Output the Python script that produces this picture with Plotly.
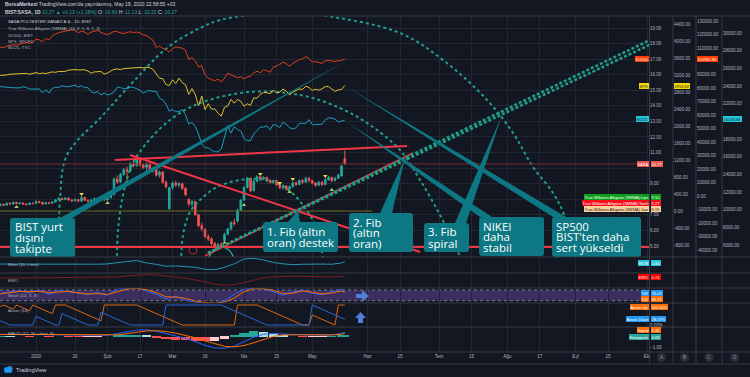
import plotly.graph_objects as go

# ===================== DATA =====================
# x axis: trading-bar index (0 = 17 Dec 2019, 106 = 18 May 2020)
bar_tick_index = [11, 23, 33, 43, 53, 63, 75, 85, 96, 113, 123, 135, 145, 156, 166, 177, 187, 199]
bar_tick_label = ["2020", "20", "Şub", "17", "Mar", "16", "Nis", "15", "May",
                  "Haz", "15", "Tem", "15", "Ağu", "17", "Eyl", "15", "Eki"]

sasa_open = [7.60, 7.68, 7.62, 7.74, 7.70, 7.80, 7.72, 7.76, 7.70, 7.66, 7.75,
             7.74, 7.86, 7.80, 7.70, 7.78, 7.74, 7.82, 7.96, 8.06, 7.98,
             8.08, 7.96, 7.90, 7.98, 7.88, 8.12, 7.94, 7.86, 7.95, 8.05,
             7.96, 8.02, 7.96, 8.10, 8.30, 9.30, 9.10, 9.60, 9.90, 9.80,
             10.30, 10.15, 10.55, 10.20, 10.05, 10.25, 9.85, 9.95, 9.55, 9.75,
             9.10, 7.40, 8.75, 9.05, 8.90, 9.00, 8.70, 8.00, 7.70, 7.85,
             7.00, 6.30, 6.05, 5.60, 5.45, 5.15, 4.95, 5.10, 5.35, 5.75,
             6.10, 6.50, 6.60, 7.30, 7.95, 8.75, 9.35, 8.55, 9.15, 9.45,
             9.30, 9.40, 9.20, 9.10, 9.20, 8.95, 8.75, 8.85, 8.65, 8.80,
             9.05, 8.95, 9.20, 9.10, 9.35, 9.20, 9.05, 8.90, 9.10, 8.95,
             9.25, 9.40, 9.20, 9.35, 9.50, 10.60]
sasa_high = [7.75, 7.72, 7.80, 7.82, 7.86, 7.84, 7.82, 7.80, 7.74, 7.80, 7.80,
             7.92, 7.90, 7.84, 7.84, 7.82, 7.88, 8.02, 8.12, 8.10, 8.14,
             8.12, 8.00, 8.04, 8.02, 8.20, 8.16, 7.98, 8.00, 8.12, 8.08,
             8.08, 8.10, 8.18, 8.38, 9.40, 9.55, 9.70, 10.00, 10.10, 10.40,
             10.45, 10.70, 10.60, 10.30, 10.35, 10.30, 10.05, 10.00, 9.85, 9.80,
             9.20, 8.80, 9.15, 9.20, 9.10, 9.05, 8.80, 8.05, 7.95, 7.90,
             7.05, 6.50, 6.15, 5.75, 5.55, 5.25, 5.20, 5.25, 5.85, 6.15,
             6.60, 6.75, 7.40, 8.00, 8.85, 9.45, 9.40, 9.25, 9.55, 9.50,
             9.48, 9.45, 9.30, 9.25, 9.25, 9.00, 8.95, 8.90, 8.90, 9.15,
             9.15, 9.30, 9.30, 9.45, 9.45, 9.25, 9.10, 9.20, 9.15, 9.35,
             9.50, 9.45, 9.45, 9.65, 10.20, 11.13]
sasa_low = [7.55, 7.58, 7.60, 7.66, 7.66, 7.68, 7.68, 7.64, 7.60, 7.62, 7.68,
            7.72, 7.74, 7.64, 7.66, 7.68, 7.70, 7.80, 7.92, 7.94, 7.94,
            7.90, 7.84, 7.86, 7.82, 7.84, 7.90, 7.80, 7.82, 7.92, 7.90,
            7.92, 7.88, 7.92, 8.05, 8.25, 9.00, 9.05, 9.50, 9.25, 9.75,
            10.05, 10.10, 10.10, 9.95, 9.90, 9.75, 9.70, 9.45, 9.40, 9.00,
            8.70, 7.30, 8.60, 8.80, 8.75, 8.60, 8.20, 7.55, 7.50, 6.95,
            6.20, 5.95, 5.50, 5.30, 5.05, 4.85, 4.80, 4.90, 5.30, 5.70,
            6.00, 6.30, 6.50, 7.25, 7.90, 8.70, 8.45, 8.50, 9.10, 9.20,
            9.22, 9.10, 9.00, 9.00, 8.85, 8.65, 8.60, 8.55, 8.55, 8.75,
            8.85, 8.90, 9.00, 9.05, 9.10, 8.95, 8.80, 8.85, 8.85, 8.90,
            9.20, 9.10, 9.15, 9.30, 9.45, 10.20]
sasa_close = [7.68, 7.62, 7.74, 7.70, 7.80, 7.72, 7.76, 7.70, 7.66, 7.75, 7.72,
              7.86, 7.80, 7.70, 7.78, 7.74, 7.82, 7.96, 8.06, 7.98, 8.08,
              7.96, 7.90, 7.98, 7.88, 8.12, 7.94, 7.86, 7.95, 8.05, 7.96,
              8.02, 7.96, 8.10, 8.30, 9.30, 9.10, 9.60, 9.90, 9.80, 10.30,
              10.15, 10.55, 10.20, 10.05, 10.25, 9.85, 9.95, 9.55, 9.75, 9.10,
              8.80, 8.75, 9.05, 8.90, 9.00, 8.70, 8.30, 7.70, 7.85, 7.00,
              6.30, 6.10, 5.60, 5.45, 5.15, 4.95, 5.10, 5.05, 5.75, 6.10,
              6.50, 6.45, 7.30, 7.95, 8.75, 9.35, 8.55, 9.15, 9.45, 9.30,
              9.40, 9.20, 9.10, 9.20, 8.95, 8.75, 8.85, 8.65, 8.80, 9.05,
              8.95, 9.20, 9.10, 9.35, 9.20, 9.05, 8.90, 9.10, 8.95, 9.25,
              9.40, 9.20, 9.35, 9.55, 10.14, 10.27]

xu100_close = [110700, 110200, 111300, 111900, 112500, 112100, 112800, 113600, 114100, 113200, 114400,
               116500, 116000, 114500, 117000, 116000, 119200, 120300, 121500, 121900, 122500, 123200,
               123400, 123000, 121400, 122300, 121800, 120200, 121800, 122400, 123000, 121500, 120800,
               119800, 121000, 122300, 122000, 121200, 120500, 121600, 122000, 121400, 121800,
               121100, 119600, 119200, 117300, 115600, 110200, 111400, 109700, 108900, 107000,
               109500, 110800, 110500, 109800, 108200, 101500, 102800, 100400, 95800, 96800,
               90000, 87600, 86500, 85600, 86900, 84700, 87500, 91300, 90000, 88800, 87900, 88700,
               86900, 88400, 89200, 91500, 92700, 91600, 93800, 93000, 91900, 95800,
               96500, 97900, 99400, 98400, 96400, 98500, 100100, 101300, 101800, 103600, 102200,
               99500, 99800, 99100, 98500, 100400, 100900, 100300, 99900, 100500, 100700, 101982.96]
spx_close = [3192, 3191, 3205, 3221, 3224, 3223, 3223, 3240, 3240, 3221, 3231,
             3258, 3235, 3246, 3237, 3253, 3275, 3265, 3288, 3283, 3289, 3316,
             3330, 3330, 3321, 3321, 3326, 3295, 3244, 3276, 3273, 3284, 3226,
             3249, 3298, 3334, 3345, 3328, 3352, 3358, 3379, 3374, 3380,
             3380, 3370, 3386, 3373, 3338, 3226, 3128, 3116, 2979, 2954,
             3090, 3003, 3130, 3024, 2972, 2747, 2882, 2741, 2481, 2711,
             2386, 2529, 2398, 2409, 2305, 2237, 2447, 2476, 2630, 2541, 2627, 2585,
             2470, 2527, 2489, 2664, 2659, 2750, 2790, 2790, 2762, 2846,
             2783, 2800, 2875, 2823, 2737, 2799, 2837, 2878, 2863, 2939, 2912,
             2843, 2868, 2848, 2881, 2930, 2930, 2870, 2820, 2852, 2864, 2953.92]
ni225_close = [23935, 23934, 23865, 23816, 23821, 23830, 23782, 23924, 23837, 23657, 23657,
               23657, 23657, 23204, 23575, 23204, 23740, 23850, 23850, 24025, 23917, 23933,
               24041, 24083, 23865, 24031, 23795, 23827, 23343, 23216, 23379, 22977, 23205,
               22972, 23085, 23320, 23873, 23828, 23686, 23686, 23861, 23828, 23688,
               23523, 23194, 23400, 23479, 23386, 23386, 22605, 22426, 21948, 21143,
               21344, 21082, 21100, 21329, 20749, 19698, 19867, 19416, 18559, 17431,
               17002, 17011, 16726, 16552, 16552, 16887, 18092, 19546, 18664, 19389, 19084, 18917,
               18065, 17818, 17820, 18576, 18950, 19353, 19345, 19498, 19043, 19638,
               19550, 19290, 19897, 19669, 19280, 19138, 19262, 19783, 19771, 19771, 20193,
               19619, 19619, 19619, 19674, 20179, 20390, 20366, 20267, 19914, 20037, 20133.66]

# indicator panes, read every third bar
ind_index = list(range(0, 106, 3)) + [106]
mom_vals = [0.15, 0.10, 0.05, 0.08, 0.12, 0.05, 0.30, 0.25, 0.10, 0.00, 0.05, 0.25, 1.20, 1.90, 2.55, 0.95,
            -0.05, -1.35, -1.15, -1.55, -2.10, -3.45, -3.75, -2.10, 0.35, 3.60, 4.10, 2.90, 1.25, 0.30,
            -0.25, 0.00, 0.30, 0.15, 0.00, 0.94, 1.80]
ewo_vals = [0.10, 0.12, 0.13, 0.14, 0.15, 0.16, 0.20, 0.22, 0.25, 0.22, 0.18, 0.20, 0.45, 0.80, 1.15, 1.30,
            1.20, 0.85, 0.45, 0.05, -0.50, -1.20, -1.90, -2.30, -2.10, -1.40, -0.50, 0.20, 0.55, 0.70,
            0.70, 0.65, 0.55, 0.50, 0.50, 0.65, 0.74]
stoch_k = [60, 70, 75, 65, 80, 55, 78, 70, 60, 55, 65, 50, 85, 88, 90, 75, 55, 30, 45, 25, 10, 8, 5, 20,
           55, 85, 90, 85, 70, 50, 70, 80, 60, 55, 70, 85, 76.01]
stoch_d = [58, 65, 72, 70, 73, 65, 70, 72, 64, 58, 60, 55, 70, 85, 88, 82, 65, 42, 40, 33, 18, 10, 7, 12,
           35, 70, 87, 87, 78, 60, 62, 75, 68, 58, 63, 75, 66.74]
macd_line = [0.22, 0.22, 0.21, 0.20, 0.20, 0.19, 0.19, 0.18, 0.16, 0.14, 0.12, 0.13, 0.28, 0.45, 0.60, 0.62,
             0.50, 0.28, 0.06, -0.15, -0.45, -0.78, -1.02, -1.05, -0.85, -0.45, -0.05, 0.22, 0.30, 0.24,
             0.19, 0.17, 0.16, 0.15, 0.17, 0.30, 0.39]
macd_signal = [0.20, 0.21, 0.21, 0.21, 0.20, 0.20, 0.19, 0.19, 0.18, 0.16, 0.14, 0.13, 0.17, 0.27, 0.41, 0.52,
               0.55, 0.47, 0.32, 0.13, -0.10, -0.38, -0.65, -0.88, -0.93, -0.80, -0.55, -0.25, 0.02, 0.15,
               0.19, 0.18, 0.17, 0.16, 0.16, 0.22, 0.30]
macd_hist = [0.02, 0.01, 0.00, -0.01, 0.00, -0.01, 0.00, -0.01, -0.02, -0.02, -0.02, 0.00, 0.11, 0.18, 0.19,
             0.10, -0.05, -0.19, -0.26, -0.28, -0.35, -0.40, -0.37, -0.17, 0.08, 0.35, 0.50, 0.47, 0.28,
             0.09, 0.00, -0.01, -0.01, -0.01, 0.01, 0.08, 0.09]
aroon_up_x = [0, 1, 4, 5, 9, 10, 16, 17, 20, 31, 32, 42, 56, 72, 73, 79, 93, 95, 96, 103, 104, 106]
aroon_up_y = [93, 100, 79, 100, 71, 100, 57, 100, 100, 21, 100, 100, 0, 0, 100, 100, 0, 0, 50, 0, 100, 100]
aroon_dn_x = [0, 3, 10, 11, 17, 18, 19, 27, 30, 31, 40, 50, 51, 68, 82, 95, 96, 106]
aroon_dn_y = [21, 0, 0, 43, 0, 0, 57, 0, 0, 64, 0, 0, 100, 100, 0, 0, 100, 28.57]

fractal_low_x = [5, 33, 39, 45, 69, 75, 89, 102]
fractal_low_y = [7.50, 7.76, 9.11, 9.75, 5.20, 7.63, 8.47, 8.60]
fractal_high_x = [25, 80, 86, 90, 100]
fractal_high_y = [8.34, 9.62, 9.05, 9.30, 9.50]

price_ticks = [5, 6, 7, 8, 9, 10, 11, 12, 13, 14, 15, 16, 17, 18, 19]
price_hidden = [8, 10]            # covered by the value tags on the price scale
spx_ticks = list(range(-800, 4401, 400))
xu_ticks = list(range(-40000, 130001, 10000))
xu_hidden = [100000]
ni_ticks = list(range(6000, 30001, 2000))
ni_hidden = [20000]

# ---- chart drawings (bar index, price) ----
red_lines = [((35.31, 10.52), (125.15, 11.42)), ((39.92, 10.84), (129.15, 4.61))]
support_level = 4.934
olive_level = 7.246
fan_start = (63.92, 4.55)
fan_ends = [(199.92, 18.23), (199.92, 17.93)]
fan_red = ((63.0, 4.36), (127.0, 10.97))
arc_a = [(18.08, 3.97), (18.38, 7.95), (20.54, 10.84), (31.62, 13.41), (40.85, 15.53), (51.31, 17.72),
         (61.46, 19.0), (67.62, 19.51), (76.85, 19.84), (87.62, 20.03), (98.38, 19.84), (122.99, 18.68),
         (136.23, 16.94), (149.77, 14.38), (157.77, 12.26), (163.92, 10.07), (170.08, 8.40),
         (173.77, 6.86), (176.85, 4.23), (177.46, 3.78)]
arc_b = [(35.92, 3.97), (36.23, 6.03), (37.77, 8.27), (40.54, 10.20), (44.54, 11.49), (52.23, 13.09),
         (61.46, 14.18), (76.85, 14.89), (92.23, 14.70), (104.54, 13.86), (113.77, 12.77), (123.0, 11.16),
         (129.15, 9.24), (135.31, 6.99), (139.92, 5.06), (142.08, 3.97)]
arc_c = [(55.62, 3.97), (56.23, 5.71), (58.38, 7.18), (61.46, 7.95), (66.08, 8.72), (72.23, 9.17),
         (79.0, 9.30), (87.0, 8.85), (93.15, 7.63), (96.85, 6.35), (98.69, 5.06), (99.31, 3.97)]
arc_d = [(63.92, 4.16), (65.46, 4.68), (68.23, 4.93), (70.38, 4.74), (71.92, 4.23)]
marker_circle = (59.31, 4.74)

callouts = [
    dict(box=(3.0, 23.0, 4.29, 6.80), lines=["BIST yurt", "dışını", "takipte"], tx=4.54,
         ty=[6.22, 5.54, 4.87], wedge=((18.38, 6.80), (22.08, 6.80), (107.0, 16.94))),
    dict(box=(80.85, 103.92, 4.61, 6.54), lines=["1. Fib (altın", "oran) destek"], tx=82.08,
         ty=[5.90, 5.22], wedge=((88.54, 6.54), (92.23, 6.54), (91.62, 7.31))),
    dict(box=(107.31, 127.0, 4.61, 7.12), lines=["2. Fib", "(altın", "oran)"], tx=108.54,
         ty=[6.54, 5.87, 5.19], wedge=((116.85, 7.12), (120.54, 7.12), (124.54, 10.65))),
    dict(box=(130.38, 144.23, 4.61, 6.48), lines=["3. Fib", "spiral"], tx=131.62,
         ty=[5.90, 5.19], wedge=((139.92, 6.48), (143.31, 6.48), (154.38, 13.41))),
    dict(box=(147.31, 167.31, 4.36, 6.86), lines=["NIKEI", "daha", "stabil"], tx=148.54,
         ty=[6.28, 5.61, 4.93], wedge=((147.62, 6.86), (151.31, 6.86), (106.69, 12.96))),
    dict(box=(169.77, 197.15, 4.29, 6.86), lines=["SP500", "BIST'ten daha", "sert yükseldi"], tx=171.0,
         ty=[6.28, 5.61, 4.93], wedge=((170.08, 6.86), (174.08, 6.86), (106.69, 15.21))),
]

# ===================== STYLE =====================
W, H = 750, 377
BG = "#131722"
GRID = "#222633"
SEP = "#363a45"
AX = "#b2b5be"
UP = "#26a69a"
DN = "#ef5350"
TEAL = "#0d7883"
FIB = "#1fa187"
UIF = "Liberation Sans"
X_RANGE = [-0.08, 199.6]
X_DOM_END = 649 / W


def py(y):
    return 1 - y / H


def dom(top, bot):
    return [py(bot), py(top)]


def labels(vals, hidden):
    return ["" if v in hidden else f"{v:.2f}" for v in vals]


fig = go.Figure()

# candles
fig.add_trace(go.Candlestick(
    x=list(range(len(sasa_close))), open=sasa_open, high=sasa_high, low=sasa_low, close=sasa_close,
    increasing=dict(line=dict(color=UP, width=1), fillcolor=UP),
    decreasing=dict(line=dict(color=DN, width=1), fillcolor=DN),
    whiskerwidth=0, xaxis="x", yaxis="y", hoverinfo="skip", showlegend=False))

# comparison symbols on their own scales
fig.add_trace(go.Scatter(x=list(range(len(spx_close))), y=spx_close, mode="lines",
                         line=dict(color="#e3c22a", width=1), xaxis="x", yaxis="y2", showlegend=False))
fig.add_trace(go.Scatter(x=list(range(len(xu100_close))), y=xu100_close, mode="lines",
                         line=dict(color="#e0401a", width=1), xaxis="x", yaxis="y3", showlegend=False))
fig.add_trace(go.Scatter(x=list(range(len(ni225_close))), y=ni225_close, mode="lines",
                         line=dict(color="#1c9fc4", width=1), xaxis="x", yaxis="y4", showlegend=False))

# fib spiral arcs
for arc in (arc_a, arc_b, arc_c):
    fig.add_trace(go.Scatter(x=[p[0] for p in arc], y=[p[1] for p in arc], mode="lines",
                             line=dict(color=FIB, width=2, dash="dot", shape="spline", smoothing=1.0),
                             xaxis="x", yaxis="y", showlegend=False, hoverinfo="skip"))
fig.add_trace(go.Scatter(x=[p[0] for p in arc_d], y=[p[1] for p in arc_d], mode="lines",
                         line=dict(color=FIB, width=1.5, shape="spline"), xaxis="x", yaxis="y",
                         showlegend=False, hoverinfo="skip"))

# fractal markers
fig.add_trace(go.Scatter(x=fractal_low_x, y=fractal_low_y, mode="markers",
                         marker=dict(symbol="triangle-up", size=4, color="#9ccc65"),
                         xaxis="x", yaxis="y", showlegend=False, hoverinfo="skip"))
fig.add_trace(go.Scatter(x=fractal_high_x, y=fractal_high_y, mode="markers",
                         marker=dict(symbol="triangle-down", size=4, color="#f7d23a"),
                         xaxis="x", yaxis="y", showlegend=False, hoverinfo="skip"))
fig.add_trace(go.Scatter(x=[marker_circle[0]], y=[marker_circle[1]], mode="markers",
                         marker=dict(symbol="circle-open", size=8, color="#b3263a", line=dict(width=1)),
                         xaxis="x", yaxis="y", showlegend=False, hoverinfo="skip"))

# indicator panes
fig.add_trace(go.Scatter(x=ind_index, y=mom_vals, mode="lines", line=dict(color="#2596b0", width=1),
                         xaxis="x", yaxis="y5", showlegend=False))
fig.add_trace(go.Scatter(x=ind_index, y=ewo_vals, mode="lines", line=dict(color="#7d1c22", width=1),
                         xaxis="x", yaxis="y6", showlegend=False))
fig.add_trace(go.Scatter(x=ind_index, y=stoch_k, mode="lines", line=dict(color="#2962ff", width=1),
                         xaxis="x", yaxis="y7", showlegend=False))
fig.add_trace(go.Scatter(x=ind_index, y=stoch_d, mode="lines", line=dict(color="#ff6d00", width=1),
                         xaxis="x", yaxis="y7", showlegend=False))
fig.add_trace(go.Scatter(x=aroon_up_x, y=aroon_up_y, mode="lines", line=dict(color="#e0660f", width=1),
                         xaxis="x", yaxis="y8", showlegend=False))
fig.add_trace(go.Scatter(x=aroon_dn_x, y=aroon_dn_y, mode="lines", line=dict(color="#2469d6", width=1),
                         xaxis="x", yaxis="y8", showlegend=False))
hist_colors = []
for k, v in enumerate(macd_hist):
    prev = macd_hist[k - 1] if k else 0
    if v >= 0:
        hist_colors.append(UP if v >= prev else "#b2dfdb")
    else:
        hist_colors.append("#ff5252" if v < prev else "#ffcdd2")
fig.add_trace(go.Bar(x=ind_index, y=macd_hist, width=2.8, marker=dict(color=hist_colors, line=dict(width=0)),
                     xaxis="x", yaxis="y9", showlegend=False))
fig.add_trace(go.Scatter(x=ind_index, y=macd_line, mode="lines", line=dict(color="#2962ff", width=1),
                         xaxis="x", yaxis="y9", showlegend=False))
fig.add_trace(go.Scatter(x=ind_index, y=macd_signal, mode="lines", line=dict(color="#ff6d00", width=1),
                         xaxis="x", yaxis="y9", showlegend=False))

# ---------------- shapes ----------------
shapes = []
# stoch band
shapes.append(dict(type="rect", xref="x", yref="y7", x0=X_RANGE[0], x1=X_RANGE[1], y0=20, y1=80,
                   fillcolor="rgba(126,87,194,0.38)", line=dict(width=0), layer="below"))
for lvl in (20, 80):
    shapes.append(dict(type="line", xref="x", yref="y7", x0=X_RANGE[0], x1=X_RANGE[1], y0=lvl, y1=lvl,
                       line=dict(color="#787b86", width=1, dash="dot"), layer="below"))
# horizontal levels
shapes.append(dict(type="line", xref="x", yref="y", x0=X_RANGE[0], x1=X_RANGE[1], y0=support_level,
                   y1=support_level, line=dict(color="#f23645", width=2)))
shapes.append(dict(type="line", xref="x", yref="y", x0=X_RANGE[0], x1=114.38, y0=olive_level,
                   y1=olive_level, line=dict(color="#6f6b22", width=1)))
shapes.append(dict(type="line", xref="x", yref="y", x0=X_RANGE[0], x1=X_RANGE[1], y0=sasa_close[-1],
                   y1=sasa_close[-1], line=dict(color="#7d2b31", width=1)))
# trend lines
for (a, b) in red_lines:
    shapes.append(dict(type="line", xref="x", yref="y", x0=a[0], y0=a[1], x1=b[0], y1=b[1],
                       line=dict(color="#f23645", width=2)))
shapes.append(dict(type="line", xref="x", yref="y", x0=fan_red[0][0], y0=fan_red[0][1], x1=fan_red[1][0],
                   y1=fan_red[1][1], line=dict(color="#f23645", width=1.5)))
for e in fan_ends:
    shapes.append(dict(type="line", xref="x", yref="y", x0=fan_start[0], y0=fan_start[1], x1=e[0], y1=e[1],
                       line=dict(color=FIB, width=2.5, dash="3px,2px")))


def rbox(x0, x1, y0, y1, rx=0.9, ry=0.2):
    return (f"M{x0 + rx},{y0} L{x1 - rx},{y0} Q{x1},{y0} {x1},{y0 + ry} L{x1},{y1 - ry} "
            f"Q{x1},{y1} {x1 - rx},{y1} L{x0 + rx},{y1} Q{x0},{y1} {x0},{y1 - ry} "
            f"L{x0},{y0 + ry} Q{x0},{y0} {x0 + rx},{y0} Z")


annotations = []
for c in callouts:
    (b1, b2, tip) = c["wedge"]
    shapes.append(dict(type="path", xref="x", yref="y",
                       path=f"M{b1[0]},{b1[1]} L{b2[0]},{b2[1]} L{tip[0]},{tip[1]} Z",
                       fillcolor=TEAL, line=dict(width=0)))
    x0, x1, y0, y1 = c["box"]
    shapes.append(dict(type="path", xref="x", yref="y", path=rbox(x0, x1, y0, y1),
                       fillcolor=TEAL, line=dict(width=0)))
    for t, yy in zip(c["lines"], c["ty"]):
        annotations.append(dict(text=t, x=c["tx"], y=yy, xref="x", yref="y", xanchor="left",
                                yanchor="middle", showarrow=False, borderpad=0, borderwidth=0,
                                font=dict(family="Open Sans", size=11.5, color="#ffffff")))

# pane separators & axis columns (chart chrome)
for yy in (16, 257, 273, 288, 303, 327, 352, 364):
    shapes.append(dict(type="line", xref="paper", yref="paper", x0=0, x1=1, y0=py(yy), y1=py(yy),
                       line=dict(color=SEP, width=1)))
for xx in (649.5, 673, 696, 722):
    shapes.append(dict(type="line", xref="paper", yref="paper", x0=xx / W, x1=xx / W, y0=py(16), y1=py(364),
                       line=dict(color=SEP, width=1)))


def ppath(points):
    return "M" + " L".join(f"{x / W},{py(y)}" for x, y in points) + " Z"


shapes.append(dict(type="path", xref="paper", yref="paper", fillcolor="#4f7fd6", line=dict(width=0),
                   path=ppath([(356, 294), (362, 294), (362, 290), (369, 296), (362, 302), (362, 298), (356, 298)])))
shapes.append(dict(type="path", xref="paper", yref="paper", fillcolor="#4f7fd6", line=dict(width=0),
                   path=ppath([(358, 323), (358, 318), (355, 318), (360.5, 312), (366, 318), (363, 318), (363, 323)])))
# bottom circles A-D
for cx, letter in ((661.5, "A"), (684.5, "B"), (709, "C"), (734.5, "D")):
    shapes.append(dict(type="circle", xref="paper", yref="paper", x0=(cx - 4.5) / W, x1=(cx + 4.5) / W,
                       y0=py(362), y1=py(353), fillcolor="#2a2e39", line=dict(width=0)))
    annotations.append(dict(text=letter, x=cx / W, y=py(357.5), xref="paper", yref="paper", showarrow=False,
                            font=dict(family=UIF, size=4.5, color="#9598a1"), xanchor="center", yanchor="middle"))
# TradingView logo
shapes.append(dict(type="circle", xref="paper", yref="paper", x0=4 / W, x1=9 / W, y0=py(373), y1=py(367),
                   fillcolor="#2196f3", line=dict(width=0)))
shapes.append(dict(type="circle", xref="paper", yref="paper", x0=7 / W, x1=12.5 / W, y0=py(373), y1=py(366),
                   fillcolor="#2196f3", line=dict(width=0)))
annotations.append(dict(text="TradingView", x=14 / W, y=py(370), xref="paper", yref="paper", showarrow=False,
                        xanchor="left", yanchor="middle", font=dict(family=UIF, size=5.5, color="#d1d4dc")))

# header
annotations.append(dict(text="<b>BorsaMerkezi</b> TradingView.com'da yayınlanmış, May 19, 2020 22:58:55 +03",
                        x=3 / W, y=py(4), xref="paper", yref="paper", xanchor="left", yanchor="middle",
                        showarrow=False, font=dict(family=UIF, size=5.0, color="#d1d4dc")))
g = "<span style='color:#26a69a'>{}</span>"
annotations.append(dict(text="<b>BIST:SASA, 1D</b> " + g.format("10.27 ▲ +0.13 (+1.28%)") + " O: " + g.format("10.60")
                        + " H: " + g.format("11.13") + " L: " + g.format("10.20") + " C: " + g.format("10.27"),
                        x=3 / W, y=py(11.5), xref="paper", yref="paper", xanchor="left", yanchor="middle",
                        showarrow=False, font=dict(family=UIF, size=5.0, color="#d1d4dc")))
# pane legends
for t, yy, col in (("SASA POLYESTER SANAYİ A.Ş., 1D, BIST", 22, "#d1d4dc"),
                   ("True Williams Alligator (SMMA) (13, 8, 5, 8, 5, 3)", 28.5, AX),
                   ("XU100, BIST", 35, AX), ("SPX, SPCFD", 41.5, AX), ("NI225, TVC", 48, AX),
                   ("Mom (10, close)", 264, AX), ("EWO", 280, AX), ("Stoch (14, 3, 3)", 295, AX),
                   ("Aroon (14)", 310, AX), ("MACD (12, 26, close, 9)", 333, AX)):
    annotations.append(dict(text=t, x=6 / W, y=py(yy), xref="paper", yref="paper", xanchor="left",
                            yanchor="middle", showarrow=False, font=dict(family=UIF, size=4.3, color=col)))


def tag(text, xpix, ypix, bg, fg="#ffffff", anchor="left"):
    annotations.append(dict(text=text, x=xpix / W, y=py(ypix), xref="paper", yref="paper", xanchor=anchor,
                            yanchor="middle", showarrow=False, bgcolor=bg, borderpad=0.6, borderwidth=0,
                            font=dict(family=UIF, size=4.0, color=fg)))


tag("XU100", 649, 59, "#ff3d00", anchor="right")
tag("101982.96", 697, 59, "#ff3d00")
tag("SPX", 649, 86, "#f5d60a", fg="#131722", anchor="right")
tag("2953.92", 674, 86, "#f5d60a", fg="#131722")
tag("NI225", 649, 119, "#26c6da", fg="#131722", anchor="right")
tag("20133.66", 723, 119, "#26c6da", fg="#131722")
tag("SASA", 649, 164, "#ef5350", anchor="right")
tag("10.27", 650.5, 164, "#ef5350")
for name, val, yy, bg, fg in (("Lips", "9.50", 197, "#0b9c1a", "#ffffff"),
                              ("Teeth", "9.27", 203, "#f70d1a", "#ffffff"),
                              ("Jaw", "8.99", 209, "#ffd29c", "#131722")):
    tag("True Williams Alligator (SMMA):" + name, 649, yy, bg, fg=fg, anchor="right")
    tag(val, 650.5, yy, bg, fg=fg)
for name, val, yy, bg in (("MOM", "1.80", 263, "#26c6da"), ("EWO", "0.74", 277, "#ff0000"),
                          ("%K", "76.01", 293, "#2196f3"), ("%D", "66.74", 299, "#ff6d00"),
                          ("Aroon Up", "100.00%", 307, "#ff6d00"), ("Aroon Down", "28.57%", 318.5, "#2196f3"),
                          ("Signal", "0.30", 330, "#ff6d00"), ("Histogram", "0.09", 337, "#26a69a")):
    tag(name, 649, yy, bg, anchor="right")
    tag(val, 650.5, yy, bg)

tickfont = dict(family=UIF, size=4.5, color=AX)


def pane_axis(top, bot, rng, **kw):
    d = dict(domain=dom(top, bot), range=rng, anchor="x", side="right", showgrid=False, zeroline=False,
             showticklabels=False, ticks="", fixedrange=True, tickfont=tickfont)
    d.update(kw)
    return d


fig.update_layout(
    width=W, height=H, margin=dict(l=0, r=0, t=0, b=0), paper_bgcolor=BG, plot_bgcolor=BG,
    showlegend=False, hovermode=False, bargap=0,
    xaxis=dict(domain=[0, X_DOM_END], range=X_RANGE, anchor="free", position=py(352),
               tickvals=bar_tick_index, ticktext=bar_tick_label, showgrid=True, gridcolor=GRID,
               zeroline=False, showline=False, ticks="", tickfont=dict(family=UIF, size=4.6, color=AX),
               rangeslider=dict(visible=False), fixedrange=True),
    yaxis=dict(domain=dom(16, 257), range=[4.292, 19.771], anchor="x", side="right",
               tickvals=price_ticks, ticktext=labels(price_ticks, price_hidden), showgrid=True,
               gridcolor=GRID, zeroline=False, ticks="", tickfont=tickfont, fixedrange=True),
    yaxis2=dict(overlaying="y", anchor="free", position=673 / W, side="right", range=[-1070, 4588],
                tickvals=spx_ticks, ticktext=labels(spx_ticks, []), showgrid=False, zeroline=False,
                ticks="", tickfont=tickfont, fixedrange=True),
    yaxis3=dict(overlaying="y", anchor="free", position=696 / W, side="right", range=[-45204, 133712],
                tickvals=xu_ticks, ticktext=labels(xu_ticks, xu_hidden), showgrid=False, zeroline=False,
                ticks="", tickfont=tickfont, fixedrange=True),
    yaxis4=dict(overlaying="y", anchor="free", position=722 / W, side="right", range=[4641, 31925],
                tickvals=ni_ticks, ticktext=labels(ni_ticks, ni_hidden), showgrid=False, zeroline=False,
                ticks="", tickfont=tickfont, fixedrange=True),
    yaxis5=pane_axis(257, 273, [-6, 5]),
    yaxis6=pane_axis(273, 288, [-3.2, 1.8]),
    yaxis7=pane_axis(288, 303, [7.1, 91.2]),
    yaxis8=pane_axis(303, 327, [-10, 110], showticklabels=True, tickvals=[0], ticktext=["0.00%"]),
    yaxis9=pane_axis(327, 352, [-1.39, 0.88], showticklabels=True, tickvals=[-1], ticktext=["−1.00"]),
    shapes=shapes, annotations=annotations,
)

fig.write_html("out.html", config={"displayModeBar": False},
               post_script="document.body.style.margin='0';document.body.style.overflow='hidden';")
